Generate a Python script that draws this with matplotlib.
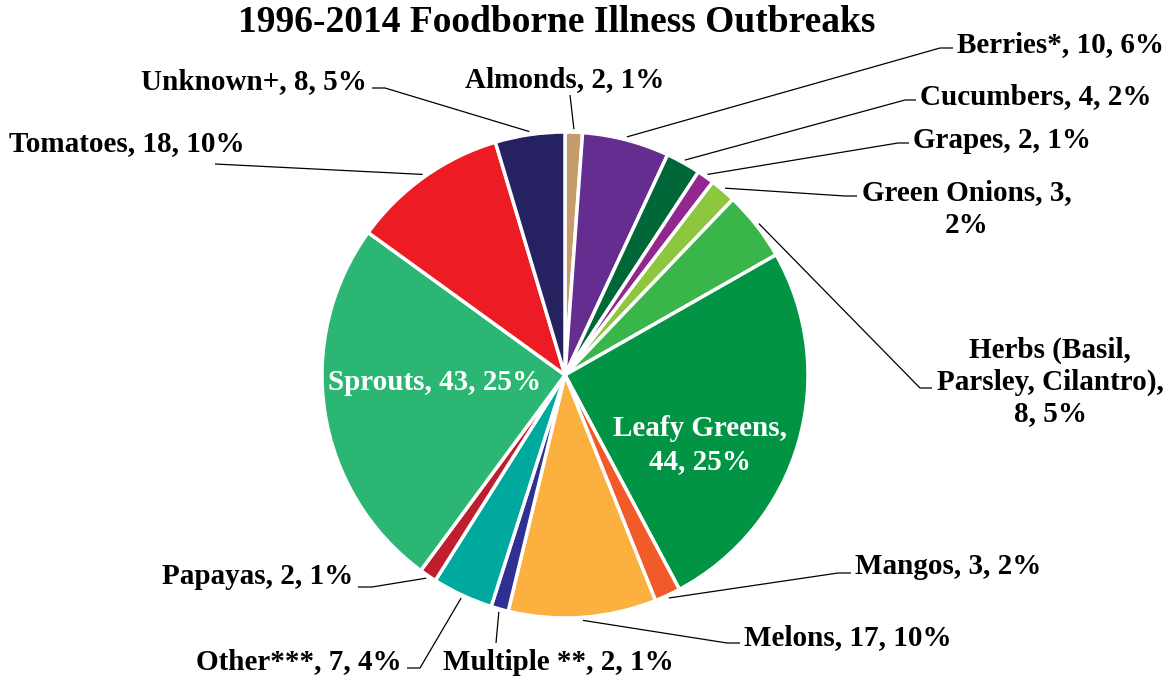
import numpy as np
import matplotlib.pyplot as plt

# Outbreak counts, clockwise from 12 o'clock
names = ["Almonds", "Berries*", "Cucumbers", "Grapes", "Green Onions", "Herbs (Basil, Parsley, Cilantro)",
         "Leafy Greens", "Mangos", "Melons", "Multiple **", "Other***", "Papayas",
         "Sprouts", "Tomatoes", "Unknown+"]
counts = [2, 10, 4, 2, 3, 8, 44, 3, 17, 2, 7, 2, 43, 18, 8]
pcts = ["1%", "6%", "2%", "1%", "2%", "5%", "25%", "2%", "10%", "1%", "4%", "1%", "25%", "10%", "5%"]
colors = ["#C69C6D", "#662D91", "#006838", "#92278F", "#8DC63F", "#39B54A", "#009444", "#F15A29",
          "#FBB040", "#2E3192", "#00A99D", "#BE1E2D", "#2BB673", "#ED1C24", "#262262"]

W, H = 1176, 681
plt.rcParams["font.family"] = ["Liberation Serif", "DejaVu Serif"]

fig = plt.figure(figsize=(W / 100, H / 100), dpi=100)
ax = fig.add_axes([0, 0, 1, 1])

cx, cy, r = 565, 375, 243
wedges, _ = ax.pie(counts, startangle=90, counterclock=False, colors=colors,
                   center=(cx, H - cy), radius=r,
                   wedgeprops=dict(edgecolor="white", linewidth=2.5))
ax.set_xlim(0, W)
ax.set_ylim(0, H)
ax.set_aspect("equal")
ax.axis("off")

ax.text(557, H - 22, "1996-2014 Foodborne Illness Outbreaks", ha="center", va="center",
        fontsize=27, fontweight="bold")

fs = 21

# label layout: text, text position, alignment, line spacing, leader path (after wedge point)
layout = {
    0: ("Almonds, 2, 1%", (565, 80), "center", 1.2, [(570, 95)]),
    1: ("Berries*, 10, 6%", (957, 45), "left", 1.2, [(940, 48), (953, 48)]),
    2: ("Cucumbers, 4, 2%", (920, 97), "left", 1.2, [(905, 100), (916, 100)]),
    3: ("Grapes, 2, 1%", (913, 140), "left", 1.2, [(898, 143), (909, 143)]),
    4: ("Green Onions, 3,\n2%", (967, 209), "center", 1.27, [(845, 196), (857, 196)]),
    5: ("Herbs (Basil,\nParsley, Cilantro),\n8, 5%", (1050, 382), "center", 1.22, [(920, 388), (932, 388)]),
    7: ("Mangos, 3, 2%", (855, 566), "left", 1.2, [(838, 573), (851, 573)]),
    8: ("Melons, 17, 10%", (744, 638), "left", 1.2, [(727, 643), (740, 643)]),
    9: ("Multiple **, 2, 1%", (443, 662), "left", 1.2, [(496, 643)]),
    10: ("Other***, 7, 4%", (402, 662), "right", 1.2, [(420, 668), (407, 668)]),
    11: ("Papayas, 2, 1%", (353, 577), "right", 1.2, [(372, 587), (358, 587)]),
    13: ("Tomatoes, 18, 10%", (245, 144), "right", 1.2, [(215, 164)]),
    14: ("Unknown+, 8, 5%", (367, 82), "right", 1.2, [(385, 88), (372, 88)]),
}

for i, w in enumerate(wedges):
    ang = np.deg2rad((w.theta1 + w.theta2) / 2)
    if i in layout:
        txt, (tx, ty), ha, ls, path = layout[i]
        ax.text(tx, H - ty, txt, ha=ha, va="center", fontsize=fs, fontweight="bold",
                linespacing=ls)
        sx = cx + (r + 3) * np.cos(ang)
        sy = H - cy + (r + 3) * np.sin(ang)
        xs = [sx] + [p[0] for p in path]
        ys = [sy] + [H - p[1] for p in path]
        ax.plot(xs, ys, color="black", lw=0.9, solid_capstyle="butt")

# labels drawn inside the two biggest slices
ax.text(700, H - 445, "Leafy Greens,\n44, 25%", ha="center", va="center", fontsize=fs,
        fontweight="bold", color="white", linespacing=1.32)
ax.text(435, H - 382, "Sprouts, 43, 25%", ha="center", va="center", fontsize=fs,
        fontweight="bold", color="white")

fig.savefig("out.png", dpi=100)
